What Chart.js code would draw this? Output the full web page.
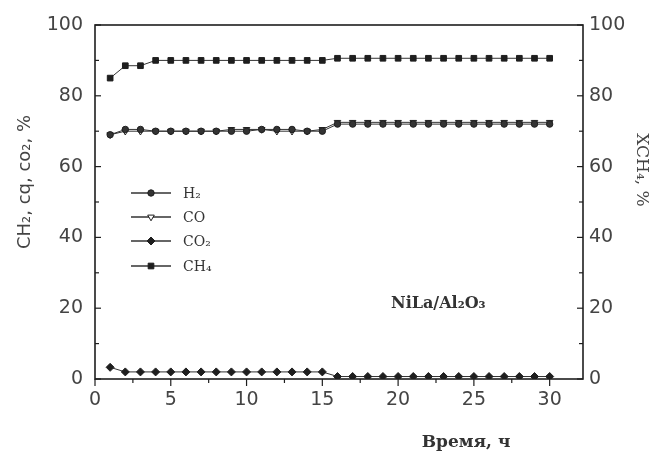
<!DOCTYPE html>
<html>
<head>
<meta charset="utf-8">
<script src="https://cdn.jsdelivr.net/npm/chart.js@4.4.1/dist/chart.umd.min.js"></script>
<style>
  html, body { margin: 0; padding: 0; background: #fff; }
  #wrap { width: 657px; height: 457px; }
</style>
</head>
<body>
<div id="wrap"><canvas id="chart"></canvas></div>
<script>
// ── Data ───────────────────────────────────────────────────────
const hours = [1, 2, 3, 4, 5, 6, 7, 8, 9, 10, 11, 12, 13, 14, 15,
               16, 17, 18, 19, 20, 21, 22, 23, 24, 25, 26, 27, 28, 29, 30];
const h2  = [69, 70.5, 70.5, 70, 70, 70, 70, 70, 70, 70, 70.5, 70.5, 70.5, 70, 70,
             72, 72, 72, 72, 72, 72, 72, 72, 72, 72, 72, 72, 72, 72, 72];
const co  = [69, 70, 70, 70, 70, 70, 70, 70, 70.5, 70.5, 70.5, 70, 70, 70, 70.5,
             72.5, 72.5, 72.5, 72.5, 72.5, 72.5, 72.5, 72.5, 72.5, 72.5, 72.5, 72.5, 72.5, 72.5, 72.5];
const co2 = [3.3, 2, 2, 2, 2, 2, 2, 2, 2, 2, 2, 2, 2, 2, 2,
             0.7, 0.7, 0.7, 0.7, 0.7, 0.7, 0.7, 0.7, 0.7, 0.7, 0.7, 0.7, 0.7, 0.7, 0.7];
const ch4 = [85, 88.5, 88.5, 90, 90, 90, 90, 90, 90, 90, 90, 90, 90, 90, 90,
             90.6, 90.6, 90.6, 90.6, 90.6, 90.6, 90.6, 90.6, 90.6, 90.6, 90.6, 90.6, 90.6, 90.6, 90.6];
const seriesNames = ['H₂', 'CO', 'CO₂', 'CH₄'];
const yTicks = [0, 20, 40, 60, 80, 100];
const xTicks = [0, 5, 10, 15, 20, 25, 30];

const INK = '#1e1e1e';
const TICK_FONT = "'DejaVu Sans', sans-serif";
const SERIF = "'DejaVu Serif', 'Liberation Serif', serif";

function pts(arr) { return arr.map((v, i) => ({ x: hours[i], y: v })); }

function series(label, data, style, extra) {
  return Object.assign({
    label,
    data: pts(data),
    borderColor: '#333',
    borderWidth: 1,
    pointStyle: style,
    pointRadius: 3.5,
    pointBackgroundColor: INK,
    pointBorderColor: INK,
    pointBorderWidth: 1,
    tension: 0,
    yAxisID: 'y',
  }, extra || {});
}

// ── Axes frame, inward ticks, titles and legend ────────────────
const decor = {
  id: 'decor',
  afterDraw(chart) {
    const { ctx, chartArea: a, scales: { x, y } } = chart;
    ctx.save();
    ctx.strokeStyle = INK;
    ctx.lineWidth = 1.6;
    ctx.strokeRect(a.left, a.top, a.right - a.left, a.bottom - a.top);

    ctx.lineWidth = 1.2;
    const seg = (x1, y1, x2, y2) => { ctx.beginPath(); ctx.moveTo(x1, y1); ctx.lineTo(x2, y2); ctx.stroke(); };
    for (let v = 0; v <= 100; v += 10) {
      const py = y.getPixelForValue(v);
      const len = v % 20 === 0 ? 6 : 4;
      seg(a.left, py, a.left + len, py);
      seg(a.right, py, a.right - len, py);
    }
    for (let v = 0; v <= 30; v += 2.5) {
      const px = x.getPixelForValue(v);
      seg(px, a.bottom, px, a.bottom + (v % 5 === 0 ? 7 : 4));
    }

    // Axis titles
    ctx.fillStyle = '#444';
    ctx.textAlign = 'center';
    ctx.textBaseline = 'middle';
    ctx.font = `18px ${TICK_FONT}`;
    ctx.save();
    ctx.translate(25, 182);
    ctx.rotate(-Math.PI / 2);
    ctx.fillText('CH₂, cq, co₂, %', 0, 0);
    ctx.restore();

    ctx.font = `17px ${SERIF}`;
    ctx.save();
    ctx.translate(641, 170);
    ctx.rotate(Math.PI / 2);
    ctx.fillText('XCH₄, %', 0, 0);
    ctx.restore();

    ctx.fillStyle = '#333';
    ctx.font = `bold 17px ${SERIF}`;
    ctx.fillText('Время, ч', 466, 443);

    ctx.font = `bold 16px ${SERIF}`;
    ctx.textAlign = 'left';
    ctx.fillText('NiLa/Al₂O₃', 391, 304);

    // Legend
    const rows = [193, 217, 241, 266];
    ctx.font = `14px ${SERIF}`;
    chart.data.datasets.forEach((ds, i) => {
      const ly = rows[i];
      ctx.strokeStyle = '#333';
      ctx.lineWidth = 1.5;
      seg(131, ly, 171, ly);
      ctx.fillStyle = ds.pointBackgroundColor;
      ctx.strokeStyle = ds.pointBorderColor;
      ctx.lineWidth = 1;
      if (Chart.helpers && Chart.helpers.drawPoint) {
        Chart.helpers.drawPoint(ctx, {
          pointStyle: ds.pointStyle,
          rotation: ds.pointRotation || 0,
          radius: ds.pointRadius,
          borderWidth: 1,
        }, 151, ly);
      }
      ctx.fillStyle = '#333';
      ctx.fillText(seriesNames[i], 183, ly + 1);
    });
    ctx.restore();
  },
};

new Chart(document.getElementById('chart'), {
  type: 'line',
  data: {
    datasets: [
      series(seriesNames[0], h2, 'circle', { pointBackgroundColor: '#333', pointRadius: 3.2 }),
      series(seriesNames[1], co, 'triangle', { pointRotation: 180, pointBackgroundColor: '#fff', pointRadius: 3.8 }),
      series(seriesNames[2], co2, 'rectRot', { pointRadius: 4 }),
      series(seriesNames[3], ch4, 'rect', { pointRadius: 4 }),
    ],
  },
  options: {
    responsive: true,
    maintainAspectRatio: false,
    animation: false,
    layout: { padding: { top: 25, left: 0, right: 0, bottom: 0 } },
    plugins: { legend: { display: false }, tooltip: { enabled: false } },
    scales: {
      x: {
        type: 'linear',
        min: 0,
        max: 32.2,
        afterBuildTicks: (s) => { s.ticks = xTicks.map(v => ({ value: v })); },
        afterFit: (s) => { s.height = 78; },
        grid: { display: false, drawTicks: false },
        border: { display: false },
        ticks: { padding: 10, color: '#444', font: { family: TICK_FONT, size: 19 } },
      },
      y: {
        min: 0,
        max: 100,
        afterBuildTicks: (s) => { s.ticks = yTicks.map(v => ({ value: v })); },
        afterFit: (s) => { s.width = 95; },
        grid: { display: false, drawTicks: false },
        border: { display: false },
        ticks: { padding: 12, color: '#444', font: { family: TICK_FONT, size: 19 } },
      },
      y1: {
        position: 'right',
        min: 0,
        max: 100,
        afterBuildTicks: (s) => { s.ticks = yTicks.map(v => ({ value: v })); },
        afterFit: (s) => { s.width = 74; },
        grid: { display: false, drawTicks: false },
        border: { display: false },
        ticks: { padding: 6, color: '#444', font: { family: TICK_FONT, size: 19 } },
      },
    },
  },
  plugins: [decor],
});
</script>
</body>
</html>
